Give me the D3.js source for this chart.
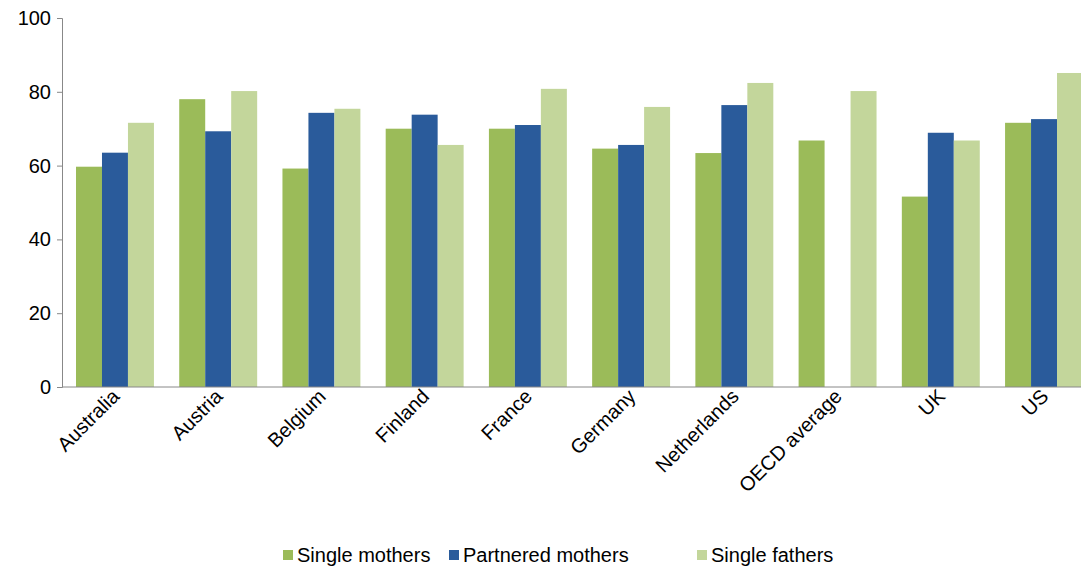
<!DOCTYPE html>
<html><head><meta charset="utf-8">
<script src="https://cdn.jsdelivr.net/npm/d3@7"></script>
<style>body{margin:0;background:#fff}text{font-family:Arial,"Liberation Sans",sans-serif;fill:#000}</style>
</head><body><svg id="c" width="1081" height="569"></svg>
<script>
var categories = ['Australia','Austria','Belgium','Finland','France','Germany','Netherlands','OECD average','UK','US']
var seriesNames = ['Single mothers','Partnered mothers','Single fathers']
var singleMothers = [59.7,78.0,59.2,70.0,70.0,64.6,63.4,66.8,51.6,71.6]
var partneredMothers = [63.5,69.3,74.3,73.8,71.0,65.6,76.4,null,68.9,72.6]
var singleFathers = [71.6,80.2,75.4,65.6,80.8,75.9,82.4,80.2,66.8,85.1]
var yTicks = [0,20,40,60,80,100]
var colors = ['#9BBB59','#2A5B9B','#C3D69B']

var svg = d3.select('#c')
var m = {l:62, r:0, t:18, b:182}
var w = 1081 - m.l - m.r, h = 569 - m.t - m.b
var g = svg.append('g').attr('transform','translate('+m.l+','+m.t+')')
var x = d3.scaleBand().domain(categories).range([14,w+2]).paddingInner(0.245).paddingOuter(0)
var xs = d3.scaleBand().domain(seriesNames).range([0,x.bandwidth()])
var y = d3.scaleLinear().domain([0,100]).range([h,0])
var all = [singleMothers,partneredMothers,singleFathers]

all.forEach(function (vals, si) {
  var rows = vals.map(function (v, i) { return {c: categories[i], v: v} })
    .filter(function (d) { return d.v != null })
  g.selectAll('.s'+si).data(rows).enter().append('rect')
    .attr('class','s'+si)
    .attr('x', function (d) { return x(d.c) + xs(seriesNames[si]) })
    .attr('y', function (d) { return y(d.v) })
    .attr('width', xs.bandwidth())
    .attr('height', function (d) { return h - y(d.v) })
    .attr('fill', colors[si])
})

var ya = g.append('g').call(d3.axisLeft(y).tickValues(yTicks).tickSize(5).tickPadding(6))
ya.selectAll('text').style('font-size','20px')
ya.selectAll('line,path').attr('stroke','#888')
var xa = g.append('g').attr('transform','translate(0,'+h+')')
  .call(d3.axisBottom(x).tickSize(0).tickPadding(8))
xa.select('path').remove()
xa.append('line').attr('x1',0).attr('x2',w).attr('stroke','#888')
xa.selectAll('text').style('font-size','20px').attr('text-anchor','end')
  .attr('transform','translate(-5,0) rotate(-45)').attr('dy','0.35em')

var lg = svg.append('g').attr('transform','translate(283,555)')
var offs = [0,166,414]
seriesNames.forEach(function (n, i) {
  var it = lg.append('g').attr('transform','translate('+offs[i]+',0)')
  it.append('rect').attr('x',0).attr('y',-5).attr('width',10).attr('height',10).attr('fill',colors[i])
  it.append('text').attr('x',14).attr('y',0).attr('dy','0.35em').style('font-size','20px').text(n)
})
</script></body></html>
